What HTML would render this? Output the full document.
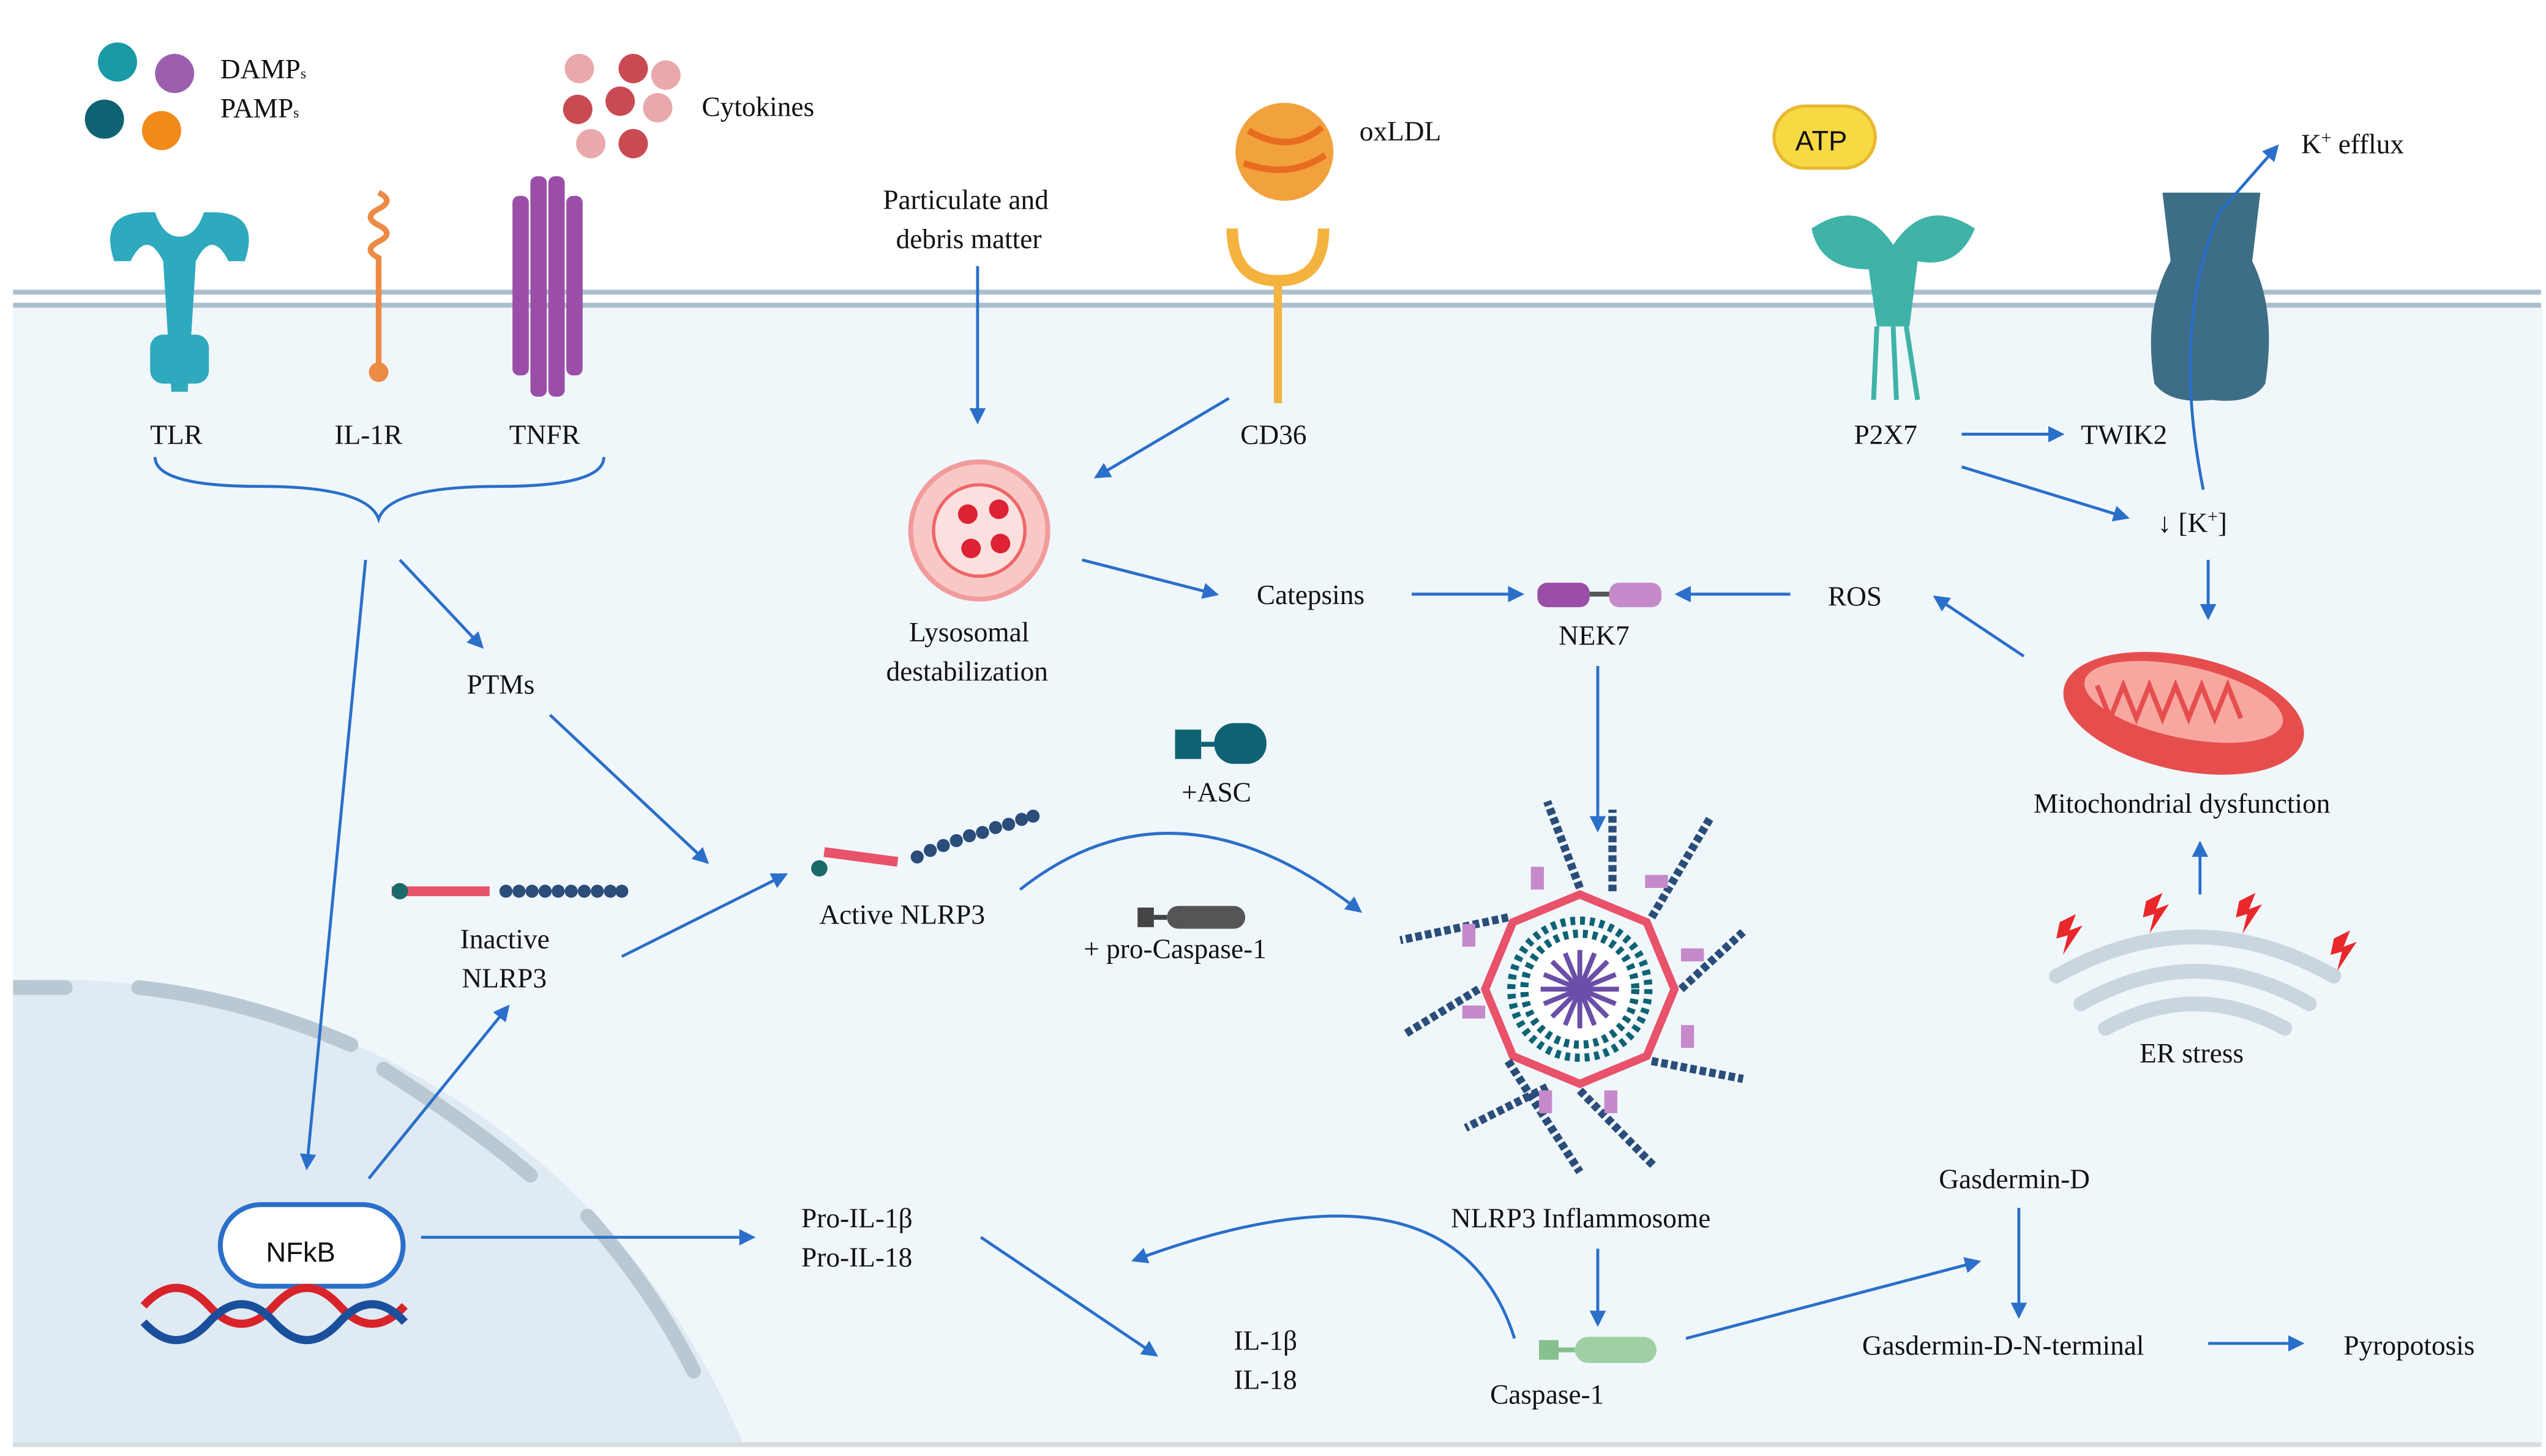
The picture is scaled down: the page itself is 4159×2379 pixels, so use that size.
<!DOCTYPE html>
<html><head><meta charset="utf-8"><style>
html,body{margin:0;padding:0;background:#fff;width:4159px;height:2379px;overflow:hidden}
svg{display:block;position:absolute;left:0;top:0}
text{font-family:"Liberation Serif",serif;font-size:17px;fill:#111}
.s{font-family:"Liberation Sans",sans-serif}
</style></head><body>
<svg width="4159" height="2379" viewBox="0 0 1560 892" preserveAspectRatio="none" xmlns="http://www.w3.org/2000/svg">
<defs>
<marker id="a" markerWidth="10" markerHeight="10" refX="8" refY="5" orient="auto" markerUnits="userSpaceOnUse"><path d="M0,0 L10,5 L0,10 z" fill="#2a6fc9"/></marker>
<clipPath id="cell"><rect x="8" y="188" width="1550" height="697"/></clipPath>
</defs>
<rect width="1560" height="892" fill="#fff"/>
<rect x="8" y="188" width="1550" height="697" fill="#f0f7fb"/>
<g clip-path="url(#cell)">
<circle cx="30" cy="1060" r="460" fill="#dfeaf3"/>
<g fill="none" stroke="#b9c8d3" stroke-width="9" stroke-linecap="round">
<path d="M8,605 L40,605"/><path d="M85,605 Q150,612 215,640"/><path d="M235,655 Q290,690 325,720"/><path d="M360,745 Q400,790 425,840"/>
</g>
</g>
<line x1="8" y1="179" x2="1557" y2="179" stroke="#a9bfcd" stroke-width="3"/>
<line x1="8" y1="187" x2="1557" y2="187" stroke="#a9bfcd" stroke-width="3"/>
<line x1="8" y1="885" x2="1557" y2="885" stroke="#d8dde0" stroke-width="3"/>

<circle cx="72" cy="38" r="12" fill="#1a9aa6"/><circle cx="107" cy="45" r="12" fill="#9c5fb0"/>
<circle cx="64" cy="73" r="12" fill="#0e6274"/><circle cx="99" cy="80" r="12" fill="#f08b1a"/>
<text x="135" y="48">DAMP<tspan font-size="9">s</tspan></text><text x="135" y="72">PAMP<tspan font-size="9">s</tspan></text>
<g fill="#e9a9ac"><circle cx="355" cy="42" r="9"/><circle cx="408" cy="46" r="9"/><circle cx="403" cy="66" r="9"/><circle cx="362" cy="88" r="9"/></g>
<g fill="#c94a52"><circle cx="388" cy="42" r="9"/><circle cx="354" cy="67" r="9"/><circle cx="380" cy="62" r="9"/><circle cx="388" cy="88" r="9"/></g>
<text x="430" y="71">Cytokines</text>
<path d="M70,160 Q60,130 90,130 L95,130 Q100,145 110,145 Q120,145 125,130 L130,130 Q160,130 150,160 L140,160 Q130,140 120,160 L115,240 L105,240 L100,160 Q90,140 80,160 Z" fill="#2fa9bd"/>
<rect x="92" y="205" width="36" height="30" rx="8" fill="#2fa9bd"/>
<text x="92" y="272">TLR</text>
<path d="M232,118 q10,5 0,10 q-10,5 0,10 q10,5 0,10 q-10,5 0,10 L232,225" fill="none" stroke="#ec8a46" stroke-width="3.5"/><circle cx="232" cy="228" r="6" fill="#ec8a46"/>
<text x="205" y="272">IL-1R</text>
<g fill="#9b4ea8"><rect x="325" y="108" width="10" height="135" rx="4"/><rect x="336" y="108" width="10" height="135" rx="4"/><rect x="314" y="120" width="10" height="110" rx="4"/><rect x="347" y="120" width="10" height="110" rx="4"/></g>
<text x="312" y="272">TNFR</text>
<path d="M95,280 Q95,298 160,298 Q225,298 232,318 Q239,298 305,298 Q370,298 370,280" fill="none" stroke="#2a6fc9" stroke-width="1.8"/>

<circle cx="787" cy="93" r="30" fill="#f2a23c"/><path d="M765,80 Q790,95 810,78 M762,100 Q790,110 812,95" stroke="#e86c20" stroke-width="4" fill="none"/>
<text x="833" y="86">oxLDL</text>
<path d="M755,140 Q755,172 783,172 Q811,172 811,140" fill="none" stroke="#f4b33e" stroke-width="7"/>
<line x1="783" y1="172" x2="783" y2="247" stroke="#f4b33e" stroke-width="5"/>
<text x="760" y="272">CD36</text>
<text x="541" y="128">Particulate  and</text><text x="549" y="152">debris matter</text>
<rect x="1087" y="65" width="62" height="38" rx="19" fill="#f7d943" stroke="#e8b830" stroke-width="2"/>
<text class="s" x="1100" y="92" font-size="20">ATP</text>
<path d="M1110,140 Q1140,120 1160,150 Q1180,120 1210,140 Q1200,165 1175,160 L1170,200 L1150,200 L1145,165 Q1115,165 1110,140Z" fill="#3fb3a8"/>
<path d="M1150,200 L1148,245 M1160,200 L1162,245 M1168,200 L1175,245" stroke="#3fb3a8" stroke-width="3"/>
<text x="1136" y="272">P2X7</text>
<path d="M1325,118 L1385,118 L1380,160 Q1395,190 1388,235 Q1380,248 1355,245 Q1330,248 1320,235 Q1313,190 1330,160 Z" fill="#3d6e86"/>
<path d="M1350,300 Q1330,200 1360,130 L1395,90" fill="none" stroke="#2a6fc9" stroke-width="1.8" marker-end="url(#a)"/>
<text x="1410" y="94">K<tspan font-size="11" dy="-6">+</tspan><tspan dy="6"> efflux</tspan></text>
<text x="1275" y="272">TWIK2</text>
<text x="1322" y="326">↓ [K<tspan font-size="11" dy="-6">+</tspan><tspan dy="6">]</tspan></text>

<circle cx="600" cy="325" r="42" fill="#f7c8c6" stroke="#f29b9b" stroke-width="3"/><circle cx="600" cy="325" r="28" fill="#fbe0df" stroke="#e66" stroke-width="2"/>
<circle cx="593" cy="315" r="6" fill="#d23"/><circle cx="612" cy="312" r="6" fill="#d23"/><circle cx="595" cy="336" r="6" fill="#d23"/><circle cx="613" cy="333" r="6" fill="#d23"/>
<text x="557" y="393">Lysosomal</text><text x="543" y="417">destabilization</text>
<text x="770" y="370">Catepsins</text>
<rect x="942" y="357" width="32" height="15" rx="6" fill="#9b4ea8"/><rect x="986" y="357" width="32" height="15" rx="6" fill="#c58ac9"/><line x1="974" y1="364" x2="986" y2="364" stroke="#555" stroke-width="3"/>
<text x="955" y="395">NEK7</text>
<text x="1120" y="371">ROS</text>
<ellipse cx="1338" cy="437" rx="75" ry="35" fill="#e64e4e" transform="rotate(12 1338 437)"/>
<ellipse cx="1338" cy="430" rx="62" ry="22" fill="#f7a7a0" transform="rotate(12 1338 430)"/>
<path d="M1285,420 l8,20 l8,-20 l8,20 l8,-20 l8,20 l8,-20 l8,20 l8,-20 l8,20 l8,-20 l8,20" fill="none" stroke="#e64e4e" stroke-width="3"/>
<text x="1246" y="498">Mitochondrial  dysfunction</text>
<g fill="none" stroke="#cad6de" stroke-width="9" stroke-linecap="round"><path d="M1260,598 Q1345,550 1430,598"/><path d="M1275,615 Q1345,575 1415,615"/><path d="M1290,630 Q1345,600 1400,630"/></g>
<g fill="#e8282a"><path d="M1262,565 l10,-5 -4,10 8,-3 -12,18 3,-12 -7,2z"/><path d="M1315,552 l10,-5 -4,10 8,-3 -12,18 3,-12 -7,2z"/><path d="M1372,552 l10,-5 -4,10 8,-3 -12,18 3,-12 -7,2z"/><path d="M1430,575 l10,-5 -4,10 8,-3 -12,18 3,-12 -7,2z"/></g>
<text x="1311" y="651">ER stress</text>

<text x="286" y="425">PTMs</text>
<line x1="240" y1="546" x2="300" y2="546" stroke="#e8526a" stroke-width="6"/><circle cx="245" cy="546" r="5" fill="#1a6a6a"/>
<g fill="#2a4d7a"><circle cx="310" cy="546" r="4"/><circle cx="318" cy="546" r="4"/><circle cx="326" cy="546" r="4"/><circle cx="334" cy="546" r="4"/><circle cx="342" cy="546" r="4"/><circle cx="350" cy="546" r="4"/><circle cx="358" cy="546" r="4"/><circle cx="366" cy="546" r="4"/><circle cx="374" cy="546" r="4"/><circle cx="381" cy="546" r="4"/></g>
<text x="282" y="581">Inactive</text><text x="283" y="605">NLRP3</text>
<line x1="505" y1="522" x2="550" y2="528" stroke="#e8526a" stroke-width="6"/><circle cx="502" cy="532" r="5" fill="#1a6a6a"/>
<g fill="#2a4d7a"><circle cx="562" cy="525" r="4"/><circle cx="570" cy="521" r="4"/><circle cx="578" cy="518" r="4"/><circle cx="586" cy="515" r="4"/><circle cx="594" cy="512" r="4"/><circle cx="602" cy="510" r="4"/><circle cx="610" cy="507" r="4"/><circle cx="618" cy="505" r="4"/><circle cx="626" cy="502" r="4"/><circle cx="633" cy="500" r="4"/></g>
<text x="502" y="566">Active  NLRP3</text>
<rect x="720" y="447" width="16" height="18" fill="#0e6274"/><rect x="744" y="443" width="32" height="25" rx="12" fill="#0e6274"/><line x1="736" y1="456" x2="744" y2="456" stroke="#0e6274" stroke-width="3"/>
<text x="724" y="491">+ASC</text>
<rect x="697" y="556" width="10" height="12" fill="#444"/><rect x="715" y="555" width="48" height="14" rx="7" fill="#555"/><line x1="707" y1="562" x2="715" y2="562" stroke="#444" stroke-width="3"/>
<text x="664" y="587">+ pro-Caspase-1</text>
<g transform="translate(968,606)">
<circle r="38" fill="#fff"/>
<circle r="42" fill="none" stroke="#0e6274" stroke-width="5" stroke-dasharray="3 3"/><circle r="34" fill="none" stroke="#0e6274" stroke-width="5" stroke-dasharray="3 3"/>
<g stroke="#6b4ea8" stroke-width="3"><line x1="-24" y1="0" x2="24" y2="0"/><line x1="0" y1="-24" x2="0" y2="24"/><line x1="-17" y1="-17" x2="17" y2="17"/><line x1="-17" y1="17" x2="17" y2="-17"/><line x1="-22" y1="-9" x2="22" y2="9"/><line x1="-9" y1="-22" x2="9" y2="22"/><line x1="-22" y1="9" x2="22" y2="-9"/><line x1="-9" y1="22" x2="9" y2="-22"/></g>
<polygon points="0,-58 41,-41 58,0 41,41 0,58 -41,41 -58,0 -41,-41" fill="none" stroke="#e8526a" stroke-width="5"/>
<g stroke="#2a4d7a" stroke-width="5" stroke-dasharray="4 2">
<line x1="0" y1="-62" x2="-20" y2="-115"/><line x1="44" y1="-44" x2="80" y2="-105"/><line x1="62" y1="0" x2="100" y2="-35"/><line x1="44" y1="44" x2="100" y2="55"/><line x1="0" y1="62" x2="45" y2="108"/><line x1="-44" y1="44" x2="0" y2="112"/><line x1="-62" y1="0" x2="-108" y2="28"/><line x1="-44" y1="-44" x2="-110" y2="-30"/>
<line x1="20" y1="-60" x2="20" y2="-110"/><line x1="-20" y1="60" x2="-70" y2="85"/>
</g>
<g fill="#c58ac9"><rect x="-30" y="-75" width="8" height="14"/><rect x="40" y="-70" width="14" height="8"/><rect x="62" y="-25" width="14" height="8"/><rect x="62" y="22" width="8" height="14"/><rect x="15" y="62" width="8" height="14"/><rect x="-25" y="62" width="8" height="14"/><rect x="-72" y="10" width="14" height="8"/><rect x="-72" y="-40" width="8" height="14"/></g>
</g>
<text x="889" y="752">NLRP3 Inflammosome</text>
<rect x="943" y="821" width="12" height="12" fill="#86c08c"/><rect x="965" y="819" width="50" height="16" rx="8" fill="#9fd0a3"/><line x1="955" y1="827" x2="965" y2="827" stroke="#86c08c" stroke-width="3"/>
<text x="913" y="860">Caspase-1</text>
<rect x="135" y="738" width="112" height="50" rx="25" fill="#fff" stroke="#2a6fc9" stroke-width="3"/>
<text class="s" x="163" y="773" font-size="24">NFkB</text>
<path d="M88,800 q20,-22 40,0 t40,0 t40,0 t40,0" fill="none" stroke="#d8232a" stroke-width="5"/>
<path d="M88,810 q20,22 40,0 t40,0 t40,0 t40,0" fill="none" stroke="#1a4f9c" stroke-width="5"/>
<text x="491" y="752">Pro-IL-1β</text><text x="491" y="776">Pro-IL-18</text>
<text x="756" y="827">IL-1β</text><text x="756" y="851">IL-18</text>
<text x="1188" y="728">Gasdermin-D</text>
<text x="1141" y="830">Gasdermin-D-N-terminal</text>
<text x="1436" y="830">Pyropotosis</text>

<g stroke="#2a6fc9" stroke-width="1.8" fill="none" marker-end="url(#a)">
<line x1="599" y1="163" x2="599" y2="258"/>
<line x1="753" y1="244" x2="672" y2="292"/>
<line x1="663" y1="343" x2="745" y2="364"/>
<line x1="865" y1="364" x2="932" y2="364"/>
<line x1="1097" y1="364" x2="1028" y2="364"/>
<line x1="1240" y1="402" x2="1186" y2="366"/>
<line x1="1202" y1="266" x2="1263" y2="266"/>
<line x1="1202" y1="286" x2="1303" y2="317"/>
<line x1="1353" y1="343" x2="1353" y2="378"/>
<line x1="1348" y1="548" x2="1348" y2="517"/>
<line x1="979" y1="408" x2="979" y2="508"/>
<line x1="245" y1="343" x2="295" y2="396"/>
<line x1="224" y1="343" x2="188" y2="715"/>
<line x1="337" y1="438" x2="433" y2="528"/>
<line x1="381" y1="586" x2="481" y2="536"/>
<line x1="226" y1="722" x2="311" y2="617"/>
<path d="M625,545 Q720,470 833,558"/>
<line x1="258" y1="758" x2="461" y2="758"/>
<line x1="601" y1="758" x2="708" y2="830"/>
<path d="M928,820 Q890,700 695,772"/>
<line x1="979" y1="765" x2="979" y2="811"/>
<line x1="1033" y1="820" x2="1212" y2="773"/>
<line x1="1237" y1="740" x2="1237" y2="806"/>
<line x1="1353" y1="823" x2="1410" y2="823"/>
</g>
</svg>
</body></html>
